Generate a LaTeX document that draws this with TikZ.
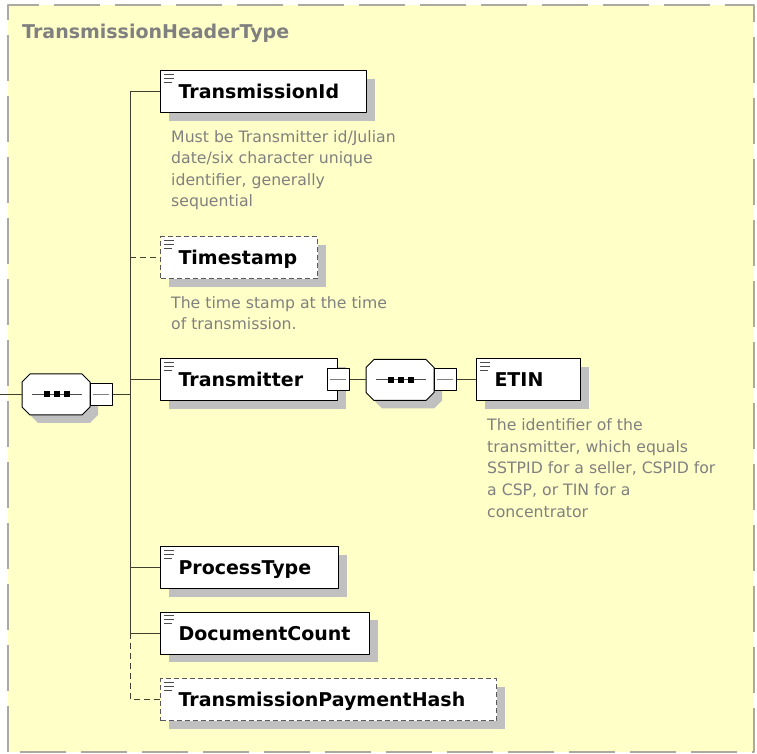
\documentclass[tikz,border=0pt]{standalone}
\usepackage{fontspec}
\setmainfont{DejaVu Sans}
\usepackage{tikz}
\usetikzlibrary{shadows}
\definecolor{bgyellow}{RGB}{255,255,200}
\definecolor{framegray}{RGB}{170,170,160}
\definecolor{shadowgray}{RGB}{192,192,192}
\definecolor{textgray}{RGB}{128,128,128}
\definecolor{linecol}{RGB}{64,64,48}

\tikzset{
  boxshadow/.style={drop shadow={shadow xshift=8bp,shadow yshift=-8bp,fill=shadowgray,opacity=1}},
  elem/.style={draw,fill=white,line width=1bp,boxshadow,anchor=west,align=left,
    inner xsep=18bp,inner ysep=0pt,minimum height=42bp,text height=14bp,text depth=0pt,
    font=\fontsize{19bp}{23bp}\selectfont\bfseries,
    path picture={\draw[solid,line width=1bp,black!70]
      ([shift={(3bp,-3.5bp)}]path picture bounding box.north west) -- ++(10bp,0)
      ([shift={(3bp,-7.5bp)}]path picture bounding box.north west) -- ++(10bp,0)
      ([shift={(3bp,-11.5bp)}]path picture bounding box.north west) -- ++(8bp,0);}},
  optelem/.style={elem,draw=black!65,dash pattern=on 5bp off 3bp},
  doc/.style={anchor=north west,inner sep=0pt,align=left,text=textgray,
    font=\fontsize{15.7bp}{21.6bp}\selectfont},
  seqbox/.style={minimum width=68bp,minimum height=41bp,inner sep=0pt,outer sep=0pt},
  minus/.style={draw,fill=white,line width=1bp,minimum size=22bp,inner sep=0pt,
    path picture={\draw[line width=1bp,textgray] ([xshift=3bp]path picture bounding box.west) -- ([xshift=-3bp]path picture bounding box.east);}},
  conn/.style={draw=linecol,line width=1bp},
  optconn/.style={conn,dash pattern=on 6bp off 4bp},
}
% octagon of a sequence compositor, with its shadow
\newcommand{\seqshape}[1]{%
  \foreach \o/\f/\d in {8/shadowgray/none,0/white/black}
    \path [fill=\f,draw=\d,line width=1bp]
      ([shift={(\o bp+8bp,-\o bp)}]#1.north west) -- ([shift={(\o bp-8bp,-\o bp)}]#1.north east)
      -- ([shift={(\o bp,-\o bp-8bp)}]#1.north east) -- ([shift={(\o bp,8bp-\o bp)}]#1.south east)
      -- ([shift={(\o bp-8bp,-\o bp)}]#1.south east) -- ([shift={(\o bp+8bp,-\o bp)}]#1.south west)
      -- ([shift={(\o bp,8bp-\o bp)}]#1.south west) -- ([shift={(\o bp,-\o bp-8bp)}]#1.north west) -- cycle;
  \draw [line width=1bp,black!70] ([xshift=-24bp]#1.center) -- ([xshift=26bp]#1.center);
  \foreach \dx in {-9,1,11}
    \fill [black] ([shift={(\dx bp-3bp,-3bp)}]#1.center) rectangle ++(6bp,6bp);
}

\begin{document}
\begin{tikzpicture}[line join=bevel]
\useasboundingbox (0bp,0bp) rectangle (757bp,754bp);
%% frame of the type
\draw [fill=bgyellow,draw=framegray,line width=2bp,dash pattern=on 46bp off 15bp] (8bp,2bp) rectangle (754bp,749bp);
\node (typename) at (22bp,715bp) [anchor=base west,inner sep=0pt,text=textgray,font=\fontsize{19bp}{23bp}\selectfont\bfseries] {TransmissionHeaderType};
%% sequence of the type
\node (seq) at (56bp,359.5bp) [seqbox] {};
  \seqshape{seq}
  \node (seqm) at (101bp,359.5bp) [minus] {};
  \coordinate (in) at (0bp,359.5bp);
  \coordinate (bus) at (130bp,359.5bp);
  \draw [conn] (in) -- (seq);
  \draw [conn] (seqm) -- (bus);
%% children
\node (tid) at (160bp,662bp) [elem,text width=170bp] {TransmissionId};
  \node (tiddoc) at (171bp,624bp) [doc] {Must be Transmitter id/Julian\\date/six character unique\\identifier, generally\\sequential};
  \node (ts) at (160bp,496bp) [optelem,text width=121bp] {Timestamp};
  \node (tsdoc) at (171bp,458bp) [doc] {The time stamp at the time\\of transmission.};
  \node (tr) at (160bp,374bp) [elem,text width=141bp] {Transmitter};
  \node (trm) at (tr.east) [minus] {};
  \node (pt) at (160bp,186bp) [elem,text width=142bp] {ProcessType};
  \node (dc) at (160bp,120.5bp) [elem,text width=173bp] {DocumentCount};
  \node (tph) at (160bp,54bp) [optelem,text width=300bp] {TransmissionPaymentHash};
  \draw [conn] (bus |- tid.west) -- (bus |- dc.west);
  \draw [conn] (bus |- tid.west) -- (tid);
  \draw [optconn] (bus |- ts.west) -- (ts);
  \draw [conn] (bus |- tr.west) -- (tr);
  \draw [conn] (bus |- pt.west) -- (pt);
  \draw [conn] (bus |- dc.west) -- (dc);
  \draw [optconn] (bus |- dc.west) |- (tph);
%% content of Transmitter
\node (seqb) at (400bp,374bp) [seqbox] {};
  \seqshape{seqb}
  \node (seqbm) at (445bp,374bp) [minus] {};
  \node (etin) at (476bp,374bp) [elem,text width=68bp] {ETIN};
  \node (etindoc) at (487bp,335.5bp) [doc] {The identifier of the\\transmitter, which equals\\SSTPID for a seller, CSPID for\\a CSP, or TIN for a\\concentrator};
  \draw [conn] (trm) -- (seqb);
  \draw [conn] (seqbm) -- (etin);
%
\end{tikzpicture}
\end{document}
